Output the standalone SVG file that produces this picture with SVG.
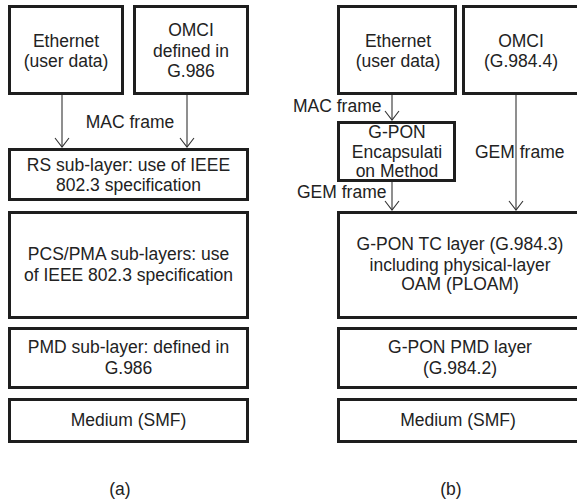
<svg xmlns="http://www.w3.org/2000/svg" width="577" height="503" viewBox="0 0 577 503">
<defs>
<style>
.box{fill:#fff;stroke:#1e1e1e;stroke-width:3}
.t{font-family:"Liberation Sans",Arial,sans-serif;font-size:17.5px;fill:#222;text-anchor:middle}
.l{font-family:"Liberation Sans",Arial,sans-serif;font-size:17.5px;fill:#222}
.c{stroke:#333;stroke-width:1.1;fill:none}
</style>
<marker id="ah" markerWidth="14" markerHeight="10" refX="7" refY="9" orient="auto-start-reverse" markerUnits="userSpaceOnUse" viewBox="0 0 14 10">
<path d="M1,1 L7,9 L13,1" fill="none" stroke="#333" stroke-width="1.1"/>
</marker>
</defs>
<rect width="577" height="503" fill="#fff"/>
<g id="connectors">
<line class="c" x1="62" y1="95" x2="62" y2="147"/>
<path class="c" d="M55,138 L62,147 L69,138"/>
<line class="c" x1="187" y1="95" x2="187" y2="147"/>
<path class="c" d="M180,138 L187,147 L194,138"/>
<line class="c" x1="392" y1="95" x2="392" y2="120"/>
<path class="c" d="M385,111 L392,120 L399,111"/>
<line class="c" x1="392" y1="182" x2="392" y2="210"/>
<path class="c" d="M385,201 L392,210 L399,201"/>
<line class="c" x1="516" y1="95" x2="516" y2="210"/>
<path class="c" d="M509,201 L516,210 L523,201"/>
<text class="t" x="130" y="128">MAC frame</text>
<text class="l" x="293" y="112">MAC frame</text>
<text class="l" x="297" y="198">GEM frame</text>
<text class="l" x="475" y="158">GEM frame</text>
</g>
<g id="a-ethernet"><rect class="box" x="9.5" y="6.5" width="113" height="87"/><text class="t" x="66" y="47">Ethernet</text><text class="t" x="66" y="67">(user data)</text></g>
<g id="a-omci"><rect class="box" x="134.5" y="6.5" width="113" height="87"/><text class="t" x="191" y="36">OMCI</text><text class="t" x="191" y="57">defined in</text><text class="t" x="191" y="77">G.986</text></g>
<g id="a-rs"><rect class="box" x="9.5" y="149.5" width="238" height="50"/><text class="t" x="128.5" y="171">RS sub-layer: use of IEEE</text><text class="t" x="128.5" y="191">802.3 specification</text></g>
<g id="a-pcs"><rect class="box" x="9.5" y="212.5" width="238" height="105"/><text class="t" x="128.5" y="260">PCS/PMA sub-layers: use</text><text class="t" x="128.5" y="281">of IEEE 802.3 specification</text></g>
<g id="a-pmd"><rect class="box" x="9.5" y="328.5" width="238" height="59"/><text class="t" x="128.5" y="353">PMD sub-layer: defined in</text><text class="t" x="128.5" y="374">G.986</text></g>
<g id="a-medium"><rect class="box" x="9.5" y="399.5" width="238" height="42"/><text class="t" x="128.5" y="426">Medium (SMF)</text></g>
<g id="a-label"><text class="t" x="120" y="495">(a)</text></g>
<g id="b-ethernet"><rect class="box" x="338.5" y="6.5" width="117" height="87"/><text class="t" x="398" y="47">Ethernet</text><text class="t" x="398" y="67">(user data)</text></g>
<g id="b-omci"><rect class="box" x="463.5" y="6.5" width="115" height="87"/><text class="t" x="521" y="47">OMCI</text><text class="t" x="521" y="67">(G.984.4)</text></g>
<g id="b-encap"><rect class="box" x="338.5" y="122.5" width="116" height="58"/><text class="t" x="397" y="138">G-PON</text><text class="t" x="397" y="158">Encapsulati</text><text class="t" x="397" y="177">on Method</text></g>
<g id="b-tc"><rect class="box" x="338.5" y="212.5" width="240" height="105"/><text class="t" x="460" y="250">G-PON TC layer (G.984.3)</text><text class="t" x="460" y="271">including physical-layer</text><text class="t" x="460" y="290">OAM (PLOAM)</text></g>
<g id="b-pmd"><rect class="box" x="338.5" y="328.5" width="240" height="59"/><text class="t" x="460" y="353">G-PON PMD layer</text><text class="t" x="460" y="374">(G.984.2)</text></g>
<g id="b-medium"><rect class="box" x="338.5" y="399.5" width="240" height="42"/><text class="t" x="458" y="426">Medium (SMF)</text></g>
<g id="b-label"><text class="t" x="451" y="495">(b)</text></g>
</svg>
